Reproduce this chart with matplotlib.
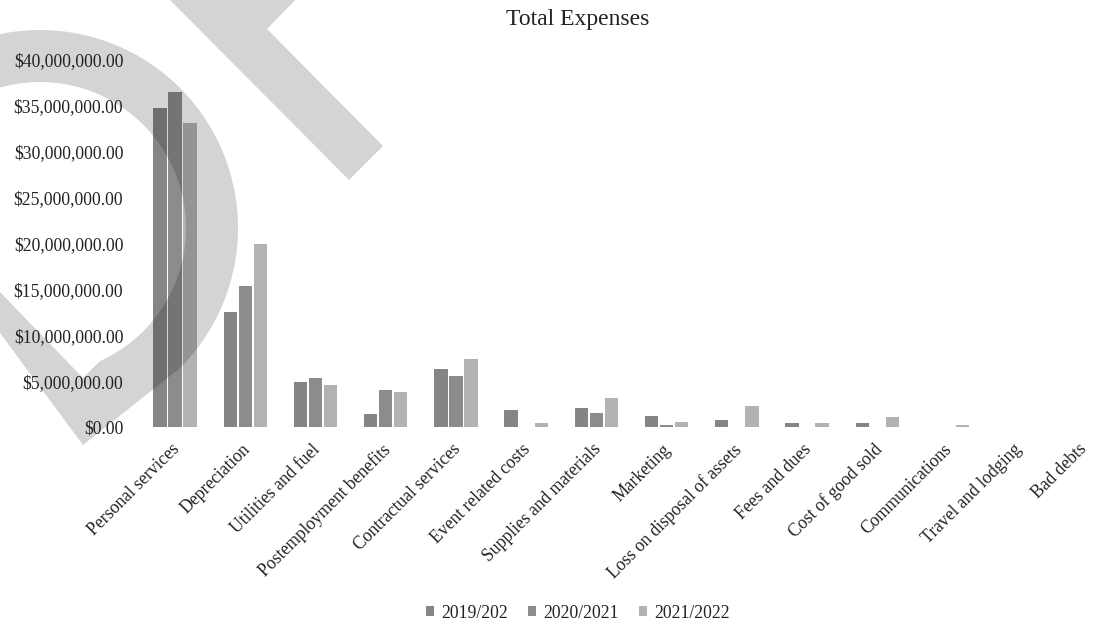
import numpy as np
import matplotlib
matplotlib.use("Agg")
import matplotlib.pyplot as plt
from matplotlib.patches import Polygon, Patch
from matplotlib.ticker import FuncFormatter
from matplotlib.transforms import ScaledTranslation

categories = ["Personal services", "Depreciation", "Utilities and fuel",
              "Postemployment benefits", "Contractual services", "Event related costs",
              "Supplies and materials", "Marketing", "Loss on disposal of assets",
              "Fees and dues", "Cost of good sold", "Communications",
              "Travel and lodging", "Bad debts"]
series_names = ["2019/202", "2020/2021", "2021/2022"]
v2019 = [34.75e6, 12.5e6, 4.9e6, 1.4e6, 6.3e6, 1.85e6, 2.1e6, 1.2e6, 0.75e6, 0.45e6, 0.4e6, 0.03e6, 0.02e6, 0.0]
v2020 = [36.5e6, 15.35e6, 5.3e6, 4.0e6, 5.55e6, 0.0, 1.5e6, 0.2e6, 0.0, 0.05e6, 0.03e6, 0.0, 0.0, 0.0]
v2021 = [33.1e6, 20.0e6, 4.6e6, 3.8e6, 7.4e6, 0.4e6, 3.2e6, 0.5e6, 2.3e6, 0.45e6, 1.1e6, 0.2e6, 0.05e6, 0.0]
values = [v2019, v2020, v2021]
yticks = [0, 5e6, 10e6, 15e6, 20e6, 25e6, 30e6, 35e6, 40e6]

W, H = 1093, 622
fig = plt.figure(figsize=(W / 100, H / 100), dpi=100, facecolor="white")
plt.rcParams["font.family"] = ["Liberation Serif", "DejaVu Serif"]
FS = 12.7

def px(x, y):
    return (x / W, 1 - y / H)

# watermark ("DRAFT" fragments)
wm = "#d4d4d4"
cx, cy, ro, ri = 40, 228, 198, 146
ang_o = np.radians(np.linspace(-115, 45, 80))
ang_i = np.radians(np.linspace(65.7, -115, 80))
pts = [(cx + ro * np.cos(a), cy + ro * np.sin(a)) for a in ang_o]
pts += [(83, 445), (0, 333), (-50, 270), (-50, 240), (0, 292), (83, 378), (100, 361)]
pts += [(cx + ri * np.cos(a), cy + ri * np.sin(a)) for a in ang_i]
fig.add_artist(Polygon([px(*p) for p in pts], closed=True, transform=fig.transFigure,
                       facecolor=wm, edgecolor="none", zorder=-5))
rpts = [(165, -5), (300, -5), (267, 29), (383, 146), (349, 180)]
fig.add_artist(Polygon([px(*p) for p in rpts], closed=True, transform=fig.transFigure,
                       facecolor=wm, edgecolor="none", zorder=-5))

left, right = 140, 1123
top, bottom = 60, 427
ax = fig.add_axes([left / W, 1 - bottom / H, (right - left) / W, (bottom - top) / H])
ax.patch.set_visible(False)

x = np.arange(len(categories))
alphas = [0.48, 0.45, 0.30]
offs = [-0.214, 0.0, 0.214]
bw = 0.19
for vals, a, o in zip(values, alphas, offs):
    ax.bar(x + o, vals, width=bw, color="black", alpha=a, linewidth=0)

ax.set_xlim(-0.5, len(categories) - 0.5)
ax.set_ylim(0, 40e6)
ax.set_yticks(yticks)
ax.yaxis.set_major_formatter(FuncFormatter(lambda v, p: "${:,.2f}".format(v)))
ax.tick_params(axis="y", length=0, pad=12, labelsize=FS, labelcolor="#222222")
ax.set_xticks(x)
ax.set_xticklabels(categories, rotation=45, ha="right", va="top", rotation_mode="anchor",
                   fontsize=FS, color="#222222")
ax.tick_params(axis="x", length=0, pad=10)
labels = ax.get_xticklabels()
for i, lab in enumerate(labels):
    dx = -4 if i < len(labels) - 1 else -10
    lab.set_transform(lab.get_transform() + ScaledTranslation(dx / 100, 0, fig.dpi_scale_trans))
for s in ax.spines.values():
    s.set_visible(False)

fig.text(578 / W, 1 - 19 / H, "Total Expenses", ha="center", va="center", fontsize=17, color="#222222")

handles = [Patch(facecolor="black", alpha=a, edgecolor="none") for a in alphas]
fig.legend(handles, series_names, loc="center", bbox_to_anchor=(578 / W, 1 - 613 / H),
           ncol=3, frameon=False, fontsize=FS, handlelength=0.45, handleheight=0.45,
           handletextpad=0.45, columnspacing=1.1, labelcolor="#222222")

fig.savefig("out.png", dpi=100, facecolor="white")
